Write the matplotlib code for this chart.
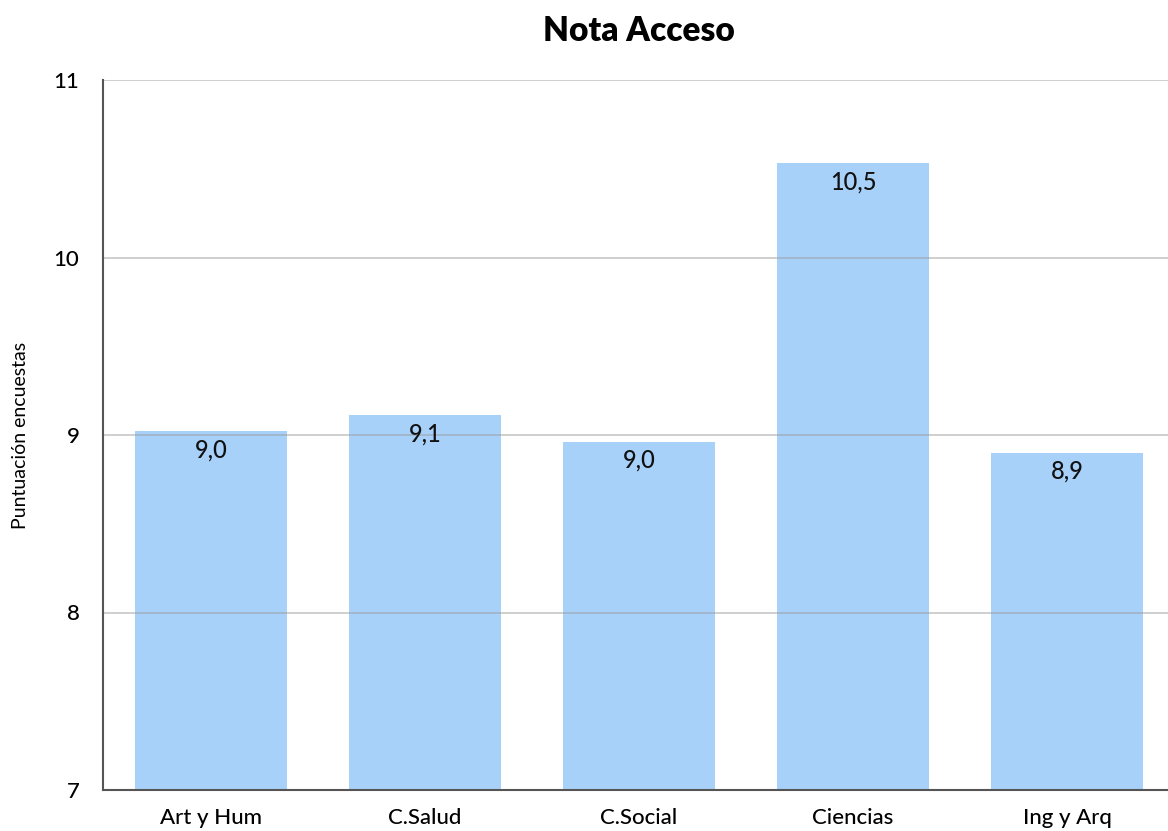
import matplotlib
matplotlib.use("Agg")
import matplotlib.pyplot as plt
from matplotlib import font_manager

categories = ["Art y Hum", "C.Salud", "C.Social", "Ciencias", "Ing y Arq"]
values = [9.02, 9.11, 8.96, 10.53, 8.90]
y_ticks = [7, 8, 9, 10, 11]

available = {f.name for f in font_manager.fontManager.ttflist}
main_font = "Lato" if "Lato" in available else "DejaVu Sans"
narrow_font = "Liberation Sans Narrow" if "Liberation Sans Narrow" in available else main_font

fig = plt.figure(figsize=(11.68, 8.31), dpi=100)
ax = fig.add_axes([103 / 1168, 41 / 831, 1065 / 1168, 710 / 831])

x = list(range(len(categories)))
ax.bar(x, [v - 7 for v in values], bottom=7, width=0.71,
       color="#A8D1FA", zorder=1)

ax.set_ylim(7, 11)
ax.set_xlim(-0.505, 4.472)
ax.set_yticks(y_ticks)
ax.set_yticklabels([str(t) for t in y_ticks], fontsize=16, fontfamily=main_font,
                   fontweight="medium")
ax.set_xticks(x)
ax.set_xticklabels(categories, fontsize=16, fontfamily=main_font,
                   fontweight="medium")
ax.tick_params(axis="x", length=0, pad=13)
ax.tick_params(axis="y", length=0, pad=17)

ax.yaxis.grid(True, color="#9a9a9a", alpha=0.55, linewidth=1.2, zorder=2)
ax.set_axisbelow(False)

for s in ["top", "right"]:
    ax.spines[s].set_visible(False)
for s in ["left", "bottom"]:
    ax.spines[s].set_color("#555555")
    ax.spines[s].set_linewidth(1.5)
    ax.spines[s].set_zorder(3)

for xi, v in zip(x, values):
    ax.annotate(f"{v:.1f}".replace(".", ","), xy=(xi, v), xytext=(0, -5),
                textcoords="offset points", ha="center", va="top",
                fontsize=17, fontfamily=main_font, fontweight="medium",
                color="#111111", zorder=4)

ax.set_ylabel("Puntuación encuestas", fontsize=14, fontfamily=narrow_font)
ax.yaxis.set_label_coords(-74 / 1065, 0.5)
fig.text(639 / 1168, 1 - 31 / 831, "Nota Acceso", ha="center", va="center",
         fontsize=24, fontweight="heavy", fontfamily=main_font)

fig.savefig("out.png", dpi=100)
